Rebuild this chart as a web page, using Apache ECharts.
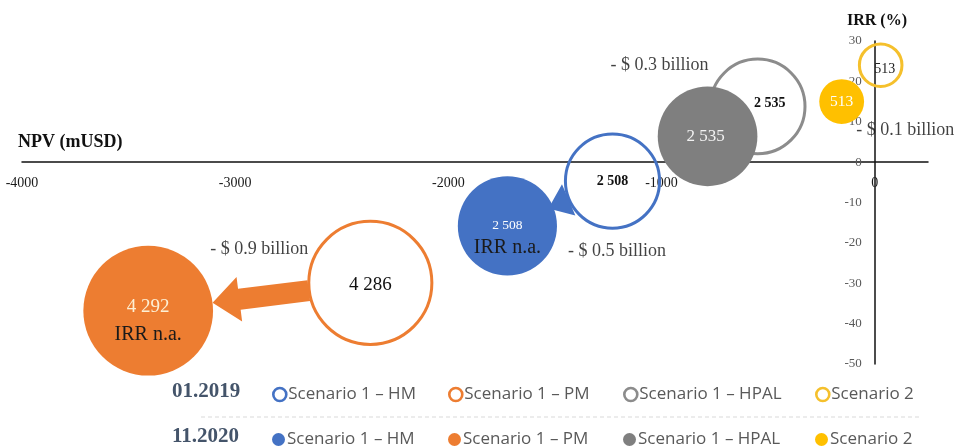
<!DOCTYPE html>
<html>
<head>
<meta charset="utf-8">
<script src="https://cdn.jsdelivr.net/npm/echarts@6/dist/echarts.min.js"></script>
<style>
  html, body { margin: 0; padding: 0; background: #fff; }
  #chart { width: 973px; height: 448px; }
</style>
</head>
<body>
<div id="chart"></div>
<script>
// Project scenarios: NPV (mUSD), IRR (%) and capex (mUSD, bubble size)
const scenarios = ['Scenario 1 – HM', 'Scenario 1 – PM', 'Scenario 1 – HPAL', 'Scenario 2'];
const periods = ['01.2019', '11.2020'];

const npv2019 = [-1230, -2366, -549, 28];
const irr2019 = [-4.7, -29.9, 13.8, 24];
const capex2019 = [2508, 4286, 2535, 513];

const npv2020 = [-1723, -3408, -784, -155];
const irr2020 = [-15.8, -36.8, 6.4, 15];
const capex2020 = [2508, 4292, 2535, 513];
const irrNote2020 = ['IRR n.a.', 'IRR n.a.', '', ''];

const npvChange = ['- $ 0.5 billion', '- $ 0.9 billion', '- $ 0.3 billion', '- $ 0.1 billion'];
const arrowScenarios = [0, 1];

const npvRange = [-4000, 250];
const npvStep = 1000;
const irrRange = [-50, 30];
const irrStep = 10;

// ---- layout & styling ----
const W = 973, H = 448;
const GRID = { left: 22, right: 45, top: 41, bottom: 84 };
const gridW = W - GRID.left - GRID.right;
const gridH = H - GRID.top - GRID.bottom;
// the axes cross at the origin: shift each axis from its grid edge onto zero
const xAxisShift = -gridH * (0 - irrRange[0]) / (irrRange[1] - irrRange[0]);
const yAxisShift = -gridW * (0 - npvRange[0]) / (npvRange[1] - npvRange[0]);

const SERIF = '"Liberation Serif", "DejaVu Serif", serif';
const SANS = '"Open Sans", "Noto Sans", sans-serif';
const fillColors = ['#4472C4', '#ED7D31', '#7F7F7F', '#FFC000'];
const ringColors = ['#4472C4', '#ED7D31', '#8C8C8C', '#F5C02C'];
const RING_K = 0.94, FILL_K = 0.99, RING_W = 3;

const ringLabel = [
  { fontSize: 14, fontWeight: 'bold', color: '#111', offset: [0, 0] },
  { fontSize: 19, color: '#111', offset: [0, 2] },
  { fontSize: 14, fontWeight: 'bold', color: '#111', offset: [12, -3] },
  { fontSize: 14, color: '#222', offset: [4, 4] }
];
const fillLabel = [
  { fontSize: 13.5, color: '#ffffff', lh: 20, nlh: 24, offset: [0, 12] },
  { fontSize: 19, color: '#fdf0d5', lh: 26, nlh: 30, offset: [0, 11] },
  { fontSize: 17, color: '#f2f2f2', lh: 20, nlh: 20, offset: [-2, 0] },
  { fontSize: 15.5, color: '#ffffff', lh: 20, nlh: 20, offset: [0, 0] }
];
const arrowStyle = {
  0: { head: 34, headLen: 22, shaft: 12, overlap: 5 },
  1: { head: 45, headLen: 27, shaft: 21, overlap: 0 }
};
const changeOffset = [[57, 48], [0, -48], [-73, -56], [44, 47]];
const legendLeft = [272, 448, 623, 815];
const legendTop = [386, 431];

const fmt = v => String(v).replace(/\B(?=(\d{3})+(?!\d))/g, ' ');
const seriesName = (i, p) => scenarios[i] + ' (' + periods[p] + ')';

const series = [];

// 01.2019 rings
scenarios.forEach((s, i) => {
  const ls = ringLabel[i];
  series.push({
    type: 'scatter',
    name: seriesName(i, 0),
    z: 2,
    silent: true,
    data: [[npv2019[i], irr2019[i], capex2019[i]]],
    symbol: 'circle',
    symbolSize: d => 2 * RING_K * Math.sqrt(d[2]),
    itemStyle: { color: 'rgba(255,255,255,0)', borderColor: ringColors[i], borderWidth: RING_W, opacity: 1 },
    label: {
      show: true, position: 'inside', offset: ls.offset,
      formatter: p => fmt(p.value[2]),
      fontFamily: SERIF, fontSize: ls.fontSize, fontWeight: ls.fontWeight || 'normal', color: ls.color
    },
    emphasis: { disabled: true }
  });
});

// arrows from the 01.2019 estimate to the 11.2020 estimate
series.push({
  type: 'custom',
  name: 'shift',
  z: 3,
  silent: true,
  clip: false,
  encode: { x: [0, 2], y: [1, 3] },
  data: arrowScenarios.map(i => [npv2019[i], irr2019[i], npv2020[i], irr2020[i], capex2019[i], capex2020[i], i]),
  renderItem: (params, api) => {
    const p1 = api.coord([api.value(0), api.value(1)]);
    const p2 = api.coord([api.value(2), api.value(3)]);
    const idx = api.value(6);
    const st = arrowStyle[idx];
    const r1 = RING_K * Math.sqrt(api.value(4)) + RING_W / 2 - 1;
    const r2 = FILL_K * Math.sqrt(api.value(5)) - st.overlap;
    let dx = p2[0] - p1[0], dy = p2[1] - p1[1];
    const len = Math.hypot(dx, dy);
    dx /= len; dy /= len;
    const s = [p1[0] + dx * r1, p1[1] + dy * r1];
    const e = [p2[0] - dx * r2, p2[1] - dy * r2];
    const L = Math.hypot(e[0] - s[0], e[1] - s[1]);
    const hl = Math.min(st.headLen, L);
    const b = [e[0] - dx * hl, e[1] - dy * hl];
    const nx = -dy, ny = dx;
    const hs = st.shaft / 2, hh = st.head / 2;
    const pts = [
      [s[0] + nx * hs, s[1] + ny * hs],
      [b[0] + nx * hs, b[1] + ny * hs],
      [b[0] + nx * hh, b[1] + ny * hh],
      e,
      [b[0] - nx * hh, b[1] - ny * hh],
      [b[0] - nx * hs, b[1] - ny * hs],
      [s[0] - nx * hs, s[1] - ny * hs]
    ];
    return { type: 'polygon', shape: { points: pts }, style: { fill: fillColors[idx] } };
  }
});

// 11.2020 filled bubbles
scenarios.forEach((s, i) => {
  const ls = fillLabel[i];
  series.push({
    type: 'scatter',
    name: seriesName(i, 1),
    z: 4,
    silent: true,
    data: [[npv2020[i], irr2020[i], capex2020[i]]],
    symbol: 'circle',
    symbolSize: d => 2 * FILL_K * Math.sqrt(d[2]),
    itemStyle: { color: fillColors[i], opacity: 1 },
    label: {
      show: true, position: 'inside', offset: ls.offset,
      formatter: p => irrNote2020[i]
        ? '{v|' + fmt(p.value[2]) + '}\n{n|' + irrNote2020[i] + '}'
        : '{v|' + fmt(p.value[2]) + '}',
      rich: {
        v: { fontFamily: SERIF, fontSize: ls.fontSize, color: ls.color, lineHeight: ls.lh, align: 'center' },
        n: { fontFamily: SERIF, fontSize: 20, color: '#1a1a1a', lineHeight: ls.nlh, align: 'center' }
      }
    },
    emphasis: { disabled: true }
  });
});

// NPV change annotations, anchored between each pair of estimates
series.push({
  type: 'scatter',
  name: 'NPV change',
  z: 6,
  silent: true,
  symbolSize: 0,
  data: scenarios.map((s, i) => ({
    value: [(npv2019[i] + npv2020[i]) / 2, (irr2019[i] + irr2020[i]) / 2],
    label: { offset: changeOffset[i] }
  })),
  label: {
    show: true, position: 'inside',
    formatter: p => npvChange[p.dataIndex],
    fontFamily: SERIF, fontSize: 18, color: '#111'
  },
  emphasis: { disabled: true }
});

// one legend entry per scenario and period, laid out as a 2 x 4 table
const legends = [];
periods.forEach((per, p) => {
  scenarios.forEach((s, i) => {
    legends.push({
      left: legendLeft[i],
      top: legendTop[p],
      padding: 0,
      itemWidth: 13,
      itemHeight: 13,
      icon: 'circle',
      selectedMode: false,
      data: [seriesName(i, p)],
      formatter: n => n.split(' (')[0],
      itemStyle: p === 0
        ? { color: '#ffffff', borderColor: ringColors[i], borderWidth: 2.6 }
        : { color: fillColors[i], borderWidth: 0 },
      textStyle: { fontFamily: SANS, fontSize: 17, color: '#595959', padding: [0, 0, 0, -3] }
    });
  });
});

const chart = echarts.init(document.getElementById('chart'), null, { renderer: 'canvas' });
chart.setOption({
  animation: false,
  backgroundColor: '#ffffff',
  grid: Object.assign({ containLabel: false }, GRID),
  xAxis: {
    type: 'value',
    position: 'bottom',
    offset: xAxisShift,
    min: npvRange[0], max: npvRange[1], interval: npvStep,
    axisLine: { onZero: false, lineStyle: { color: '#111', width: 1.5 } },
    axisTick: { show: false },
    splitLine: { show: false },
    axisLabel: { margin: 14, fontFamily: SERIF, fontSize: 14, color: '#1a1a1a', showMaxLabel: false, formatter: v => String(v) }
  },
  yAxis: {
    type: 'value',
    position: 'left',
    offset: yAxisShift,
    min: irrRange[0], max: irrRange[1], interval: irrStep,
    axisLine: { show: true, onZero: false, lineStyle: { color: '#111', width: 1.5 } },
    axisTick: { show: false },
    splitLine: { show: false },
    axisLabel: { margin: 13, fontFamily: SERIF, fontSize: 13, color: '#595959', formatter: v => String(v) }
  },
  legend: legends,
  graphic: [
    { type: 'text', left: 18, top: 133, style: { text: 'NPV (mUSD)', font: 'bold 18px ' + SERIF, fill: '#111' } },
    { type: 'text', left: 847, top: 13, style: { text: 'IRR (%)', font: 'bold 16px ' + SERIF, fill: '#111' } },
    { type: 'text', left: 172, top: 381, style: { text: periods[0], font: 'bold 21px ' + SERIF, fill: '#44546A' } },
    { type: 'text', left: 172, top: 426, style: { text: periods[1], font: 'bold 21px ' + SERIF, fill: '#44546A' } },
    { type: 'line', shape: { x1: 201, y1: 417, x2: 920, y2: 417 }, style: { stroke: '#D9D9D9', lineWidth: 1, lineDash: [4, 3] } }
  ],
  series
});
</script>
</body>
</html>
